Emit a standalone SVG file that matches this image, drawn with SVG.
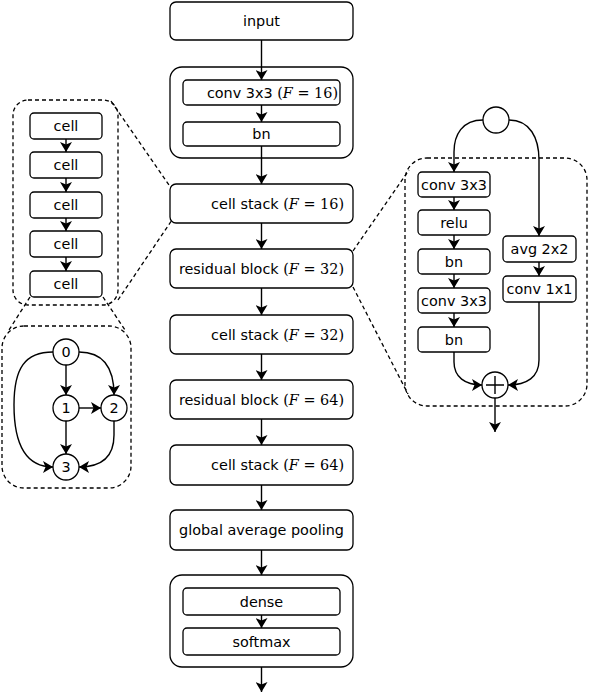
<svg xmlns="http://www.w3.org/2000/svg" width="590" height="694" viewBox="0 0 590 694">
<style>
.box{fill:#fff;stroke:#000;stroke-width:1.3}
.cont{fill:#fff;stroke:#000;stroke-width:1.3}
.dash{fill:none;stroke:#000;stroke-width:1.3;stroke-dasharray:4,3}
.edge{fill:none;stroke:#000;stroke-width:1.4}
.circ{fill:#fff;stroke:#000;stroke-width:1.3}
text{font-family:"DejaVu Sans","Liberation Sans",sans-serif;font-size:14.4px;fill:#000}
.c{text-anchor:middle}
.e{text-anchor:end}
.m{font-family:"DejaVu Serif","Liberation Serif",serif}
.it{font-style:italic}
</style>
<defs>
<marker id="ah" markerWidth="10" markerHeight="12" refX="10" refY="6" orient="auto" markerUnits="userSpaceOnUse" viewBox="0 0 10 12">
<path d="M0,0 L10,6 L0,12 L2.5,6 z" fill="#000"/>
</marker>
</defs>

<!-- dashed zoom panels and callout lines -->
<g id="panels">
<rect class="dash" x="13" y="100" width="105" height="205" rx="15"/>
<rect class="dash" x="2" y="326" width="129" height="162" rx="22"/>
<rect class="dash" x="405" y="158" width="182" height="248" rx="22"/>
<line class="dash" x1="111" y1="101" x2="171" y2="188"/>
<line class="dash" x1="118" y1="300" x2="172" y2="220"/>
<line class="dash" x1="30" y1="297" x2="9" y2="330"/>
<line class="dash" x1="103" y1="297" x2="125" y2="330"/>
<line class="dash" x1="353" y1="251" x2="409" y2="170"/>
<line class="dash" x1="353" y1="287" x2="408" y2="394"/>
</g>

<!-- main column -->
<g id="input"><rect class="box" x="170" y="2" width="183" height="38" rx="6"/><text class="c" x="261.5" y="26">input</text></g>
<g id="stem"><rect class="cont" x="170" y="67" width="183" height="91" rx="12"/></g>
<g id="stem-conv"><rect class="box" x="183" y="80" width="157" height="25" rx="4"/><text class="e" x="338" y="97.5">conv 3x3 <tspan class="m">(<tspan class="it">F</tspan> = 16)</tspan></text></g>
<g id="stem-bn"><rect class="box" x="183" y="122" width="157" height="24" rx="4"/><text class="c" x="261.5" y="139">bn</text></g>
<g id="cellstack1"><rect class="box" x="170" y="184" width="183" height="39" rx="6"/><text class="e" x="344" y="208.5">cell stack <tspan class="m">(<tspan class="it">F</tspan> = 16)</tspan></text></g>
<g id="resblock1"><rect class="box" x="170" y="249" width="183" height="39" rx="6"/><text class="e" x="344" y="273.5">residual block <tspan class="m">(<tspan class="it">F</tspan> = 32)</tspan></text></g>
<g id="cellstack2"><rect class="box" x="170" y="315" width="183" height="39" rx="6"/><text class="e" x="344" y="339.5">cell stack <tspan class="m">(<tspan class="it">F</tspan> = 32)</tspan></text></g>
<g id="resblock2"><rect class="box" x="170" y="380" width="183" height="39" rx="6"/><text class="e" x="344" y="404.5">residual block <tspan class="m">(<tspan class="it">F</tspan> = 64)</tspan></text></g>
<g id="cellstack3"><rect class="box" x="170" y="445" width="183" height="40" rx="6"/><text class="e" x="344" y="470">cell stack <tspan class="m">(<tspan class="it">F</tspan> = 64)</tspan></text></g>
<g id="gap"><rect class="box" x="170" y="510" width="183" height="40" rx="6"/><text class="c" x="261.5" y="535">global average pooling</text></g>
<g id="head"><rect class="cont" x="170" y="575" width="183" height="92" rx="12"/></g>
<g id="dense"><rect class="box" x="183" y="588" width="157" height="27" rx="4"/><text class="c" x="261.5" y="606.5">dense</text></g>
<g id="softmax"><rect class="box" x="183" y="628" width="157" height="27" rx="4"/><text class="c" x="261.5" y="646.5">softmax</text></g>

<!-- cell stack detail -->
<g id="cell1"><rect class="box" x="30" y="113" width="72" height="26" rx="4"/><text class="c" x="66" y="131">cell</text></g>
<g id="cell2"><rect class="box" x="30" y="152" width="72" height="26" rx="4"/><text class="c" x="66" y="170">cell</text></g>
<g id="cell3"><rect class="box" x="30" y="192" width="72" height="26" rx="4"/><text class="c" x="66" y="210">cell</text></g>
<g id="cell4"><rect class="box" x="30" y="231" width="72" height="26" rx="4"/><text class="c" x="66" y="249">cell</text></g>
<g id="cell5"><rect class="box" x="30" y="271" width="72" height="26" rx="4"/><text class="c" x="66" y="289">cell</text></g>

<!-- DAG detail -->
<g id="n0"><circle class="circ" cx="66" cy="352" r="13"/><text class="c" x="66" y="357">0</text></g>
<g id="n1"><circle class="circ" cx="66" cy="408" r="13"/><text class="c" x="66" y="413">1</text></g>
<g id="n2"><circle class="circ" cx="114" cy="408" r="13"/><text class="c" x="114" y="413">2</text></g>
<g id="n3"><circle class="circ" cx="66" cy="467" r="13"/><text class="c" x="66" y="472">3</text></g>

<!-- residual block detail -->
<g id="rin"><circle class="circ" cx="496" cy="120" r="13"/></g>
<g id="r-conv1"><rect class="box" x="418" y="172" width="72" height="25" rx="4"/><text class="c" x="454" y="189.5">conv 3x3</text></g>
<g id="r-relu"><rect class="box" x="418" y="210" width="72" height="25" rx="4"/><text class="c" x="454" y="227.5">relu</text></g>
<g id="r-bn1"><rect class="box" x="418" y="249" width="72" height="25" rx="4"/><text class="c" x="454" y="266.5">bn</text></g>
<g id="r-conv2"><rect class="box" x="418" y="288" width="72" height="25" rx="4"/><text class="c" x="454" y="305.5">conv 3x3</text></g>
<g id="r-bn2"><rect class="box" x="418" y="327" width="72" height="25" rx="4"/><text class="c" x="454" y="344.5">bn</text></g>
<g id="r-avg"><rect class="box" x="503" y="236" width="73" height="26" rx="4"/><text class="c" x="539.5" y="254">avg 2x2</text></g>
<g id="r-conv1x1"><rect class="box" x="503" y="276" width="73" height="26" rx="4"/><text class="c" x="539.5" y="294">conv 1x1</text></g>
<g id="r-add"><circle class="circ" cx="495" cy="385" r="13"/><path class="edge" d="M486,385 H504 M495,376 V394"/></g>

<!-- connectors -->
<g id="connectors">
<line class="edge" x1="261.5" y1="40" x2="261.5" y2="80" marker-end="url(#ah)"/>
<line class="edge" x1="261.5" y1="105" x2="261.5" y2="122" marker-end="url(#ah)"/>
<line class="edge" x1="261.5" y1="146" x2="261.5" y2="184" marker-end="url(#ah)"/>
<line class="edge" x1="261.5" y1="223" x2="261.5" y2="249" marker-end="url(#ah)"/>
<line class="edge" x1="261.5" y1="288" x2="261.5" y2="315" marker-end="url(#ah)"/>
<line class="edge" x1="261.5" y1="354" x2="261.5" y2="380" marker-end="url(#ah)"/>
<line class="edge" x1="261.5" y1="419" x2="261.5" y2="445" marker-end="url(#ah)"/>
<line class="edge" x1="261.5" y1="485" x2="261.5" y2="510" marker-end="url(#ah)"/>
<line class="edge" x1="261.5" y1="550" x2="261.5" y2="575" marker-end="url(#ah)"/>
<line class="edge" x1="261.5" y1="615" x2="261.5" y2="628" marker-end="url(#ah)"/>
<line class="edge" x1="261.5" y1="667" x2="261.5" y2="692" marker-end="url(#ah)"/>
<line class="edge" x1="66" y1="139" x2="66" y2="152" marker-end="url(#ah)"/>
<line class="edge" x1="66" y1="178" x2="66" y2="192" marker-end="url(#ah)"/>
<line class="edge" x1="66" y1="218" x2="66" y2="231" marker-end="url(#ah)"/>
<line class="edge" x1="66" y1="257" x2="66" y2="271" marker-end="url(#ah)"/>
<line class="edge" x1="66" y1="365" x2="66" y2="395" marker-end="url(#ah)"/>
<line class="edge" x1="79" y1="408" x2="101" y2="408" marker-end="url(#ah)"/>
<line class="edge" x1="66" y1="421" x2="66" y2="454" marker-end="url(#ah)"/>
<path class="edge" d="M79,352 C103,352 114,368 114,395" marker-end="url(#ah)"/>
<path class="edge" d="M53,352 C25,352 14,368 14,405 C14,445 26,467 53,467" marker-end="url(#ah)"/>
<path class="edge" d="M114,421 L114,435 C114,456 102,467 79,467" marker-end="url(#ah)"/>
<path class="edge" d="M483,120 C462,120 454,135 454,152 L454,172" marker-end="url(#ah)"/>
<path class="edge" d="M509,120 C530,120 539,138 539,160 L539,236" marker-end="url(#ah)"/>
<line class="edge" x1="454" y1="197" x2="454" y2="210" marker-end="url(#ah)"/>
<line class="edge" x1="454" y1="235" x2="454" y2="249" marker-end="url(#ah)"/>
<line class="edge" x1="454" y1="274" x2="454" y2="288" marker-end="url(#ah)"/>
<line class="edge" x1="454" y1="313" x2="454" y2="327" marker-end="url(#ah)"/>
<line class="edge" x1="539" y1="262" x2="539" y2="276" marker-end="url(#ah)"/>
<path class="edge" d="M454,352 L454,362 C454,377 465,385 482,385" marker-end="url(#ah)"/>
<path class="edge" d="M539,302 L539,360 C539,377 527,385 508,385" marker-end="url(#ah)"/>
<line class="edge" x1="495" y1="398" x2="495" y2="432" marker-end="url(#ah)"/>
</g>
</svg>
